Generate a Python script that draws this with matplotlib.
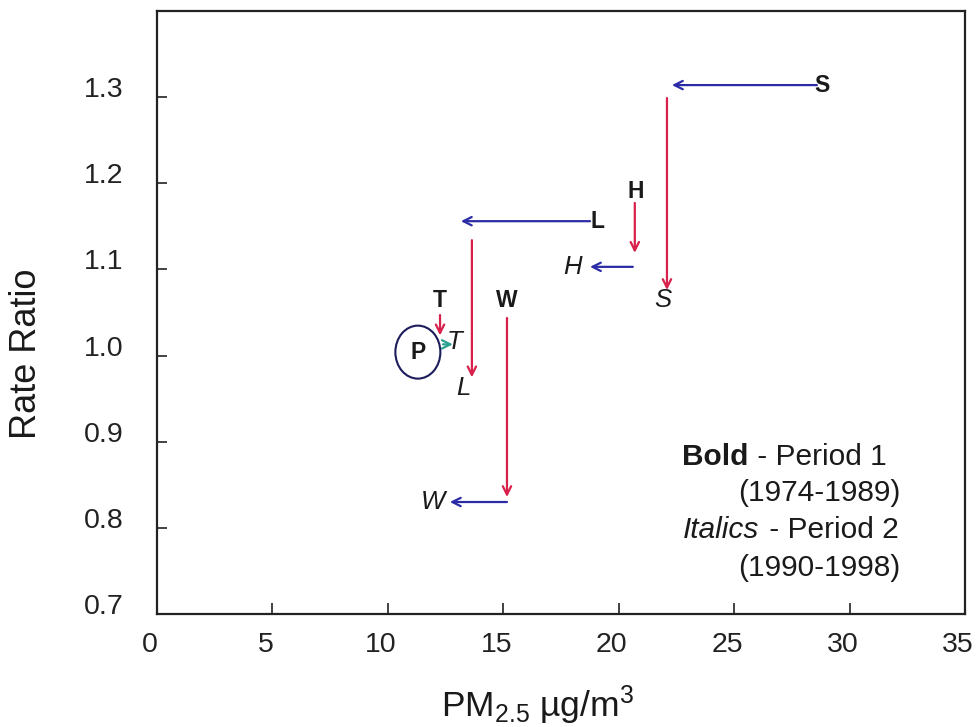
import matplotlib
matplotlib.use('Agg')
import matplotlib.pyplot as plt
from matplotlib.patches import Ellipse
from matplotlib.transforms import offset_copy, ScaledTranslation

# ---------------- data ----------------
cities = ['S', 'L', 'H', 'W', 'T']
pm_period1 = [28.8, 19.06, 20.74, 15.16, 12.26]
rr_period1 = [1.314, 1.156, 1.190, 1.0645, 1.0645]
pm_period2 = [22.09, 13.64, 18.02, 11.95, 12.9]
rr_period2 = [1.0645, 0.962, 1.103, 0.830, 1.013]
ref_city = 'P'
ref_pm = 11.3
ref_rr = 1.004

x_ticks = [0, 5, 10, 15, 20, 25, 30, 35]
y_ticks = [0.7, 0.8, 0.9, 1.0, 1.1, 1.2, 1.3]

# ---------------- style ----------------
plt.rcParams['font.family'] = ['Liberation Sans', 'DejaVu Sans']
plt.rcParams['mathtext.fontset'] = 'custom'
plt.rcParams['mathtext.rm'] = 'Liberation Sans'
plt.rcParams['mathtext.it'] = 'Liberation Sans:italic'
plt.rcParams['mathtext.bf'] = 'Liberation Sans:bold'

RED = '#d8204a'
BLUE = '#2b2ba8'
GREEN = '#2aa08e'
INK = '#1a1a1a'

# arrow drawing order and pixel offsets (start/end) per city
# order 'hv': horizontal (PM change) first, then vertical (RR change)
arrow_style = {
    'S': dict(order='hv', h=((-5, 0), (5, 0)), v=((0, -13), (0, 10)), lab2=(-4, 0)),
    'L': dict(order='hv', h=((-7, 0), (-11, 0)), v=((0, -19), (0, 11)), lab2=(-8, 0)),
    'H': dict(order='vh', v=((-1, -11), (-1, 14)), h=((-3, 0), (17, 0)), lab2=(0, 0)),
    'W': dict(order='vh', v=((0, -18), (0, 5)), h=((0, 0), (17, 0)), lab2=(0, 0)),
    'T': dict(order='vh', v=((0, -15), (0, 9)), h=((3, 0), (-2, 0)), lab2=(0, 2)),
}

fig = plt.figure(figsize=(9.76, 7.27), dpi=100)
ax = fig.add_axes([157 / 976, 1 - 614 / 727, 808 / 976, 603 / 727])
ax.set_xlim(0, 35)
ax.set_ylim(0.7, 1.4)

for sp in ax.spines.values():
    sp.set_color('#222222')
    sp.set_linewidth(1.6)

ax.set_xticks(x_ticks)
ax.set_xticklabels([str(v) for v in x_ticks])
ax.set_yticks(y_ticks)
ax.set_yticklabels([f'{v:.1f}' for v in y_ticks])
ax.tick_params(axis='x', direction='in', length=8, width=1.2, labelsize=20.5, pad=13, colors='#222222')
ax.tick_params(axis='y', direction='in', length=7, width=1.2, labelsize=20.5, pad=24, colors='#222222')
for lab in ax.get_xticklabels():
    lab.set_transform(lab.get_transform() + ScaledTranslation(-7 / 100, 0, fig.dpi_scale_trans))
for lab in ax.get_yticklabels():
    lab.set_transform(lab.get_transform() + ScaledTranslation(0, 10 / 100, fig.dpi_scale_trans))


def tr(dx, dy):
    return offset_copy(ax.transData, fig=fig, x=dx, y=dy, units='dots')


def arrow(p0, p1, o0, o1, color):
    ax.annotate('', xy=p1, xycoords=tr(*o1), xytext=p0, textcoords=tr(*o0),
                arrowprops=dict(arrowstyle='->', color=color, lw=1.6,
                                shrinkA=0, shrinkB=0, mutation_scale=15))


for c, x1, y1, x2, y2 in zip(cities, pm_period1, rr_period1, pm_period2, rr_period2):
    st = arrow_style[c]
    hcol = BLUE if x2 < x1 else GREEN
    if st['order'] == 'hv':
        arrow((x1, y1), (x2, y1), st['h'][0], st['h'][1], hcol)
        arrow((x2, y1), (x2, y2), st['v'][0], st['v'][1], RED)
    else:
        arrow((x1, y1), (x1, y2), st['v'][0], st['v'][1], RED)
        arrow((x1, y2), (x2, y2), st['h'][0], st['h'][1], hcol)
    ax.text(x1, y1, c, fontsize=16.5, fontweight='bold', ha='center', va='center', color=INK)
    ax.text(x2, y2, c, fontsize=18.5, fontstyle='italic', ha='center', va='center',
            color=INK, transform=tr(*st['lab2']))

# reference city (no change)
ax.add_patch(Ellipse((ref_pm, ref_rr), width=45 / 23.09, height=53 / 861.4,
                     fill=False, edgecolor='#1c1c5c', lw=1.5))
ax.text(ref_pm, ref_rr, ref_city, fontsize=16.5, fontweight='bold', ha='center', va='center', color=INK)

# legend text
LFS = 21.5
fig.text(682 / 976, 1 - 457 / 727, 'Bold', fontsize=LFS, fontweight='bold', ha='left', va='center', color=INK)
fig.text(887 / 976, 1 - 457 / 727, ' - Period 1', fontsize=LFS, ha='right', va='center', color=INK)
fig.text(900 / 976, 1 - 493 / 727, '(1974-1989)', fontsize=LFS, ha='right', va='center', color=INK)
fig.text(683 / 976, 1 - 530 / 727, 'Italics', fontsize=LFS, fontstyle='italic', ha='left', va='center', color=INK)
fig.text(899 / 976, 1 - 530 / 727, ' - Period 2', fontsize=LFS, ha='right', va='center', color=INK)
fig.text(900 / 976, 1 - 568 / 727, '(1990-1998)', fontsize=LFS, ha='right', va='center', color=INK)

# axis labels
fig.text(538 / 976, 1 - 717 / 727, r'PM$_\mathrm{2.5}$ µg/m$^\mathrm{3}$', fontsize=25.5,
         ha='center', va='baseline', color=INK)
fig.text(26 / 976, 1 - 354 / 727, 'Rate Ratio', fontsize=26, rotation=90,
         ha='center', va='center', color=INK)

fig.savefig('out.png', dpi=100)
